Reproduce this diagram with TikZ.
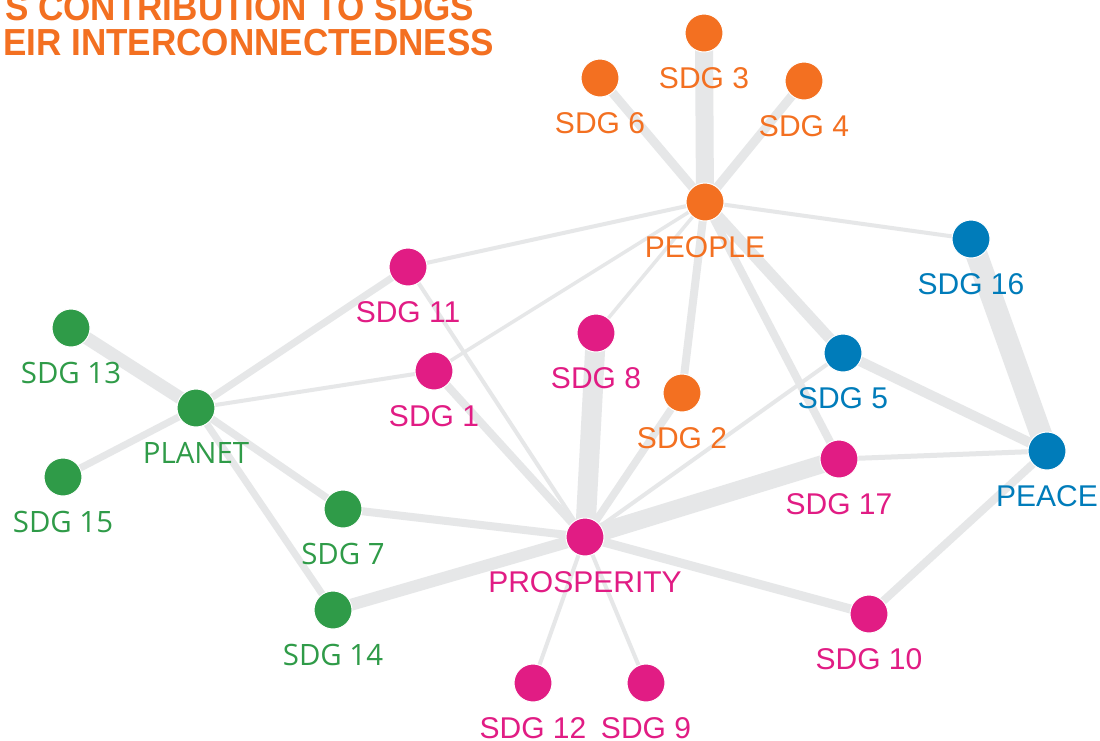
\documentclass[tikz,border=0pt]{standalone}
\usepackage{fontspec}
\setmainfont{Liberation Sans}
\newfontfamily\greenfont{Open Sans}
\usetikzlibrary{backgrounds}
\definecolor{sdgorange}{HTML}{F37021}
\definecolor{sdgpink}{HTML}{E11C84}
\definecolor{sdgblue}{HTML}{007CBA}
\definecolor{sdggreen}{HTML}{2F9B48}
\definecolor{edgegray}{HTML}{E6E7E8}
\begin{document}
\begin{tikzpicture}[x=1pt,y=-1pt,
  dot/.style={circle, minimum size=38pt, inner sep=0pt, draw=white, line width=1pt},
  lab/.style={anchor=base, inner sep=0pt, font=\fontsize{30}{30}\selectfont},
  glab/.style={anchor=base, inner sep=0pt, font=\greenfont\fontsize{29.4}{30}\selectfont},
  link/.style={draw=edgegray, line width=#1},
  ttl/.style={anchor=base west, inner sep=0pt, text=sdgorange, font=\bfseries\fontsize{37.7}{38}\selectfont}
]
\useasboundingbox (0,0) rectangle (1100,740);

% title
\node[ttl] (t1) at (5,20) {\scalebox{0.93}[1]{S CONTRIBUTION TO SDGS}};
\node[ttl] (t2) at (3,55) {\scalebox{0.93}[1]{EIR INTERCONNECTEDNESS}};

% nodes
\node[dot, fill=sdgorange] (s3) at (704,33) {};
\node[dot, fill=sdgorange] (s6) at (600,78) {};
\node[dot, fill=sdgorange] (s4) at (804,81) {};
\node[dot, fill=sdgorange] (people) at (705,202) {};
\node[dot, fill=sdgorange] (s2) at (682,393) {};
\node[dot, fill=sdgpink] (s11) at (408,267) {};
\node[dot, fill=sdgpink] (s8) at (596,333) {};
\node[dot, fill=sdgpink] (s1) at (434,371) {};
\node[dot, fill=sdgpink] (s17) at (839,459) {};
\node[dot, fill=sdgpink] (prosp) at (585,537) {};
\node[dot, fill=sdgpink] (s10) at (869,614) {};
\node[dot, fill=sdgpink] (s12) at (533,683) {};
\node[dot, fill=sdgpink] (s9) at (646,683) {};
\node[dot, fill=sdgblue] (s16) at (971,239) {};
\node[dot, fill=sdgblue] (s5) at (843,353) {};
\node[dot, fill=sdgblue] (peace) at (1047,451) {};
\node[dot, fill=sdggreen] (s13) at (71,328) {};
\node[dot, fill=sdggreen] (planet) at (196,408) {};
\node[dot, fill=sdggreen] (s15) at (63,477) {};
\node[dot, fill=sdggreen] (s7) at (343,509) {};
\node[dot, fill=sdggreen] (s14) at (333,610) {};

% labels
\node[lab, text=sdgorange] (s3l) at (704,88) {SDG 3};
\node[lab, text=sdgorange] (s6l) at (600,133) {SDG 6};
\node[lab, text=sdgorange] (s4l) at (804,136) {SDG 4};
\node[lab, text=sdgorange] (peoplel) at (705,257) {PEOPLE};
\node[lab, text=sdgorange] (s2l) at (682,448) {SDG 2};
\node[lab, text=sdgpink] (s11l) at (408,322) {SDG 11};
\node[lab, text=sdgpink] (s8l) at (596,388) {SDG 8};
\node[lab, text=sdgpink] (s1l) at (434,426) {SDG 1};
\node[lab, text=sdgpink] (s17l) at (839,514) {SDG 17};
\node[lab, text=sdgpink] (prospl) at (585,592) {PROSPERITY};
\node[lab, text=sdgpink] (s10l) at (869,669) {SDG 10};
\node[lab, text=sdgpink] (s12l) at (533,738) {SDG 12};
\node[lab, text=sdgpink] (s9l) at (646,738) {SDG 9};
\node[lab, text=sdgblue] (s16l) at (971,294) {SDG 16};
\node[lab, text=sdgblue] (s5l) at (843,408) {SDG 5};
\node[lab, text=sdgblue] (peacel) at (1047,506) {PEACE};
\node[glab, text=sdggreen] (s13l) at (71,383) {SDG 13};
\node[glab, text=sdggreen] (planetl) at (196,463) {PLANET};
\node[glab, text=sdggreen] (s15l) at (63,532) {SDG 15};
\node[glab, text=sdggreen] (s7l) at (343,564) {SDG 7};
\node[glab, text=sdggreen] (s14l) at (333,665) {SDG 14};

% edges
\begin{pgfonlayer}{background}
\fill[white] (0,0) rectangle (1100,740);
\draw[link=18pt] (people.center) -- (s3.center);
\draw[link=9pt] (people.center) -- (s6.center);
\draw[link=9pt] (people.center) -- (s4.center);
\draw[link=4pt] (people.center) -- (s16.center);
\draw[link=4pt] (people.center) -- (s11.center);
\draw[link=3.5pt] (people.center) -- (s1.center);
\draw[link=3.5pt] (people.center) -- (s8.center);
\draw[link=8pt] (people.center) -- (s2.center);
\draw[link=8pt] (people.center) -- (s17.center);
\draw[link=11pt] (people.center) -- (s5.center);

\draw[link=13pt] (planet.center) -- (s13.center);
\draw[link=7pt] (planet.center) -- (s15.center);
\draw[link=7pt] (planet.center) -- (s11.center);
\draw[link=4pt] (planet.center) -- (s1.center);
\draw[link=7.5pt] (planet.center) -- (s7.center);
\draw[link=7pt] (planet.center) -- (s14.center);

\draw[link=4pt] (prosp.center) -- (s11.center);
\draw[link=8pt] (prosp.center) -- (s1.center);
\draw[link=20pt] (prosp.center) -- (s8.center);
\draw[link=7.5pt] (prosp.center) -- (s2.center);
\draw[link=4pt] (prosp.center) -- (s5.center);
\draw[link=18pt] (prosp.center) -- (s17.center);
\draw[link=9pt] (prosp.center) -- (s10.center);
\draw[link=4pt] (prosp.center) -- (s9.center);
\draw[link=4pt] (prosp.center) -- (s12.center);
\draw[link=12pt] (prosp.center) -- (s14.center);
\draw[link=8pt] (prosp.center) -- (s7.center);

\draw[link=22pt] (peace.center) -- (s16.center);
\draw[link=10pt] (peace.center) -- (s5.center);
\draw[link=5pt] (peace.center) -- (s17.center);
\draw[link=8pt] (peace.center) -- (s10.center);
\end{pgfonlayer}
\end{tikzpicture}
\end{document}
